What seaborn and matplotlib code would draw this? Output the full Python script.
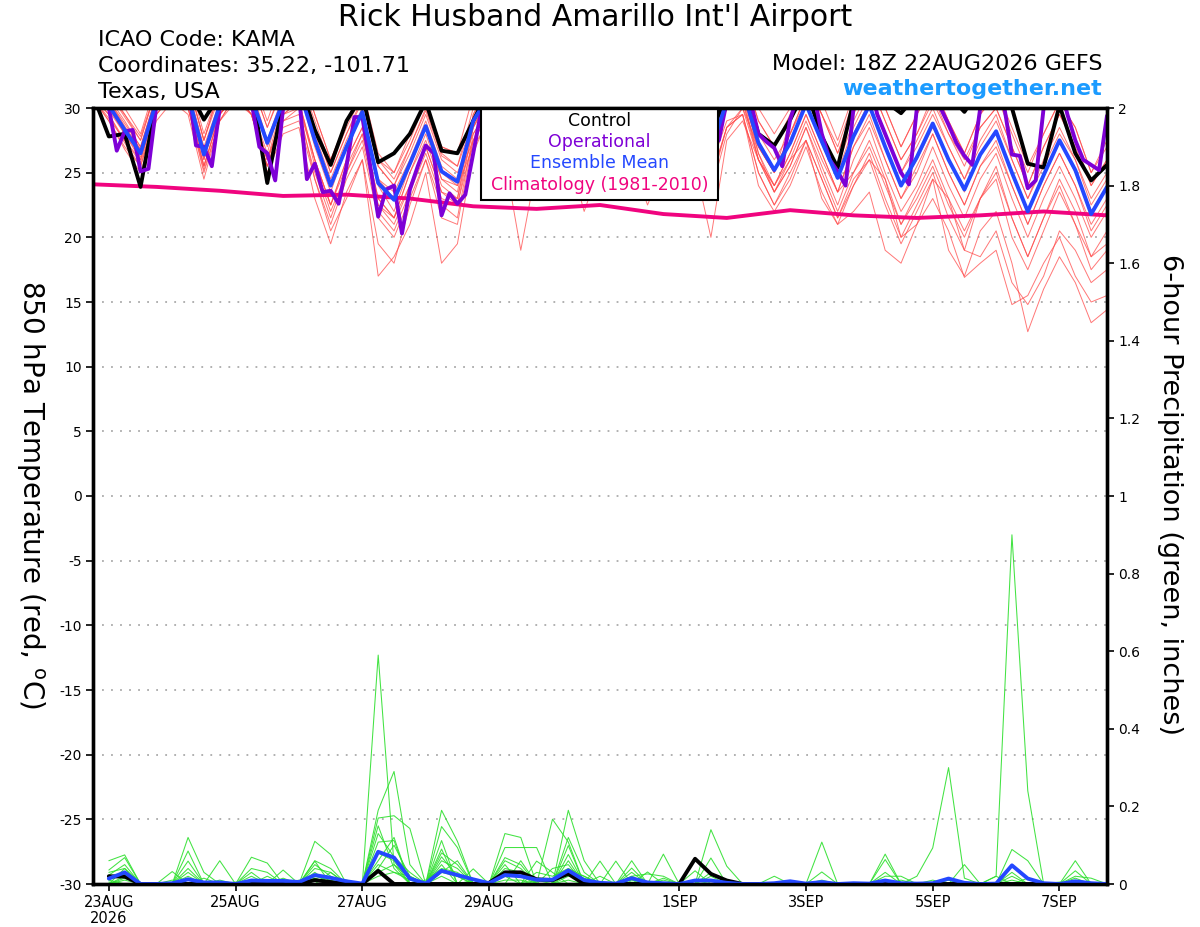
import matplotlib
matplotlib.use("Agg")
import matplotlib.pyplot as plt
import seaborn as sns
import pandas as pd
from matplotlib.patches import Rectangle

# ---------------- time axes (hours after 18Z 22AUG2026) ----------------
hours = list(range(0, 385, 6))          # ensemble, 6-hourly
op_hours = list(range(0, 385, 3))       # operational, 3-hourly
clim_hours = list(range(0, 385, 24))    # climatology, daily
precip_hours = list(range(6, 385, 6))   # 6-hour precipitation totals

xtick_hours = [6, 54, 102, 150, 222, 270, 318, 366]
xtick_labels = ['23AUG\n2026', '25AUG', '27AUG', '29AUG', '1SEP', '3SEP', '5SEP', '7SEP']

# ---------------- 850 hPa temperature (C) ----------------
temp_control = [31.0, 27.8, 28.0, 23.9, 30.5, 32.5, 31.5, 29.1, 31.0, 32.5, 31.5, 24.2,
                30.5, 32.0, 28.3, 25.6, 29.0, 31.0, 25.8, 26.5, 28.0, 30.5, 26.7, 26.5,
                29.0, 31.5, 30.5, 27.5, 30.5, 32.0, 31.0, 27.5, 30.0, 32.0, 31.0, 28.0,
                30.5, 32.0, 31.0, 28.0, 31.0, 32.0, 28.0, 27.1, 29.1, 31.5, 27.8, 25.4,
                30.5, 32.0, 30.5, 29.6, 31.0, 32.0, 31.0, 29.7, 31.5, 32.0, 30.0, 25.7,
                25.4, 30.2, 26.5, 24.4, 25.6]

temp_mean = [31.0, 30.2, 28.3, 26.5, 30.5, 32.0, 31.0, 26.4, 30.2, 32.0, 30.8, 27.3,
             30.5, 31.5, 27.5, 24.0, 27.0, 29.7, 24.2, 22.9, 25.7, 28.6, 25.1, 24.3,
             29.0, 31.0, 29.5, 26.0, 29.5, 31.5, 30.0, 26.5, 29.5, 31.0, 30.0, 26.8,
             29.5, 31.5, 30.0, 26.8, 30.5, 31.5, 27.3, 25.2, 27.3, 30.3, 27.4, 24.6,
             27.8, 30.2, 27.0, 24.0, 26.2, 28.8, 26.0, 23.7, 26.4, 28.2, 25.0, 22.0,
             24.8, 27.5, 25.2, 21.8, 23.9]

temp_oper = [31.5, 31.0, 30.0, 26.7, 28.2, 28.3, 25.1, 25.3,
             30.2, 32.0, 33.0, 33.0, 32.0, 27.1, 27.0, 25.5,
             30.0, 32.0, 33.0, 33.0, 30.5, 27.0, 26.5, 24.4,
             30.0, 32.0, 31.0, 24.5, 25.7, 23.5, 23.6, 22.6,
             25.5, 29.3, 29.3, 25.5, 21.6, 23.7, 24.0, 20.3,
             23.7, 25.5, 27.1, 26.5, 21.7, 23.4, 22.6, 23.3,
             26.5, 29.8, 31.5, 32.0, 30.0, 28.0, 27.0, 26.5,
             30.0, 32.0, 32.5, 31.5, 29.5, 27.5, 27.0, 26.5,
             29.5, 31.5, 32.0, 31.0, 29.5, 27.5, 27.0, 26.5,
             29.5, 31.5, 32.0, 31.0, 29.5, 28.0, 27.0, 27.5,
             30.5, 32.0, 32.0, 30.5, 28.0, 27.4, 26.9, 25.5,
             29.1, 31.0, 32.0, 31.0, 28.0, 26.0, 25.1, 24.0,
             30.0, 32.0, 32.0, 29.5, 28.0, 26.5, 25.0, 24.1,
             30.0, 32.0, 32.0, 30.0, 28.7, 27.3, 26.3, 25.6,
             30.0, 32.0, 32.0, 30.2, 26.4, 26.3, 23.8, 24.4,
             30.0, 32.0, 32.0, 29.5, 27.5, 26.0, 25.6, 25.2,
             29.4]

temp_clim = [24.1, 23.9, 23.6, 23.2, 23.3, 23.0, 22.4, 22.2, 22.5,
             21.8, 21.5, 22.1, 21.7, 21.5, 21.7, 22.0, 21.7]

temp_m01 = [31.2, 31.0, 29.5, 27.8, 31.5, 33.0, 32.0, 27.5, 31.5, 33.2, 32.0, 28.5,
            31.8, 33.0, 29.5, 26.0, 29.0, 31.5, 26.5, 25.0, 28.0, 30.5, 27.0, 26.5,
            31.0, 33.0, 31.5, 28.0, 31.5, 33.5, 32.0, 28.5, 31.5, 33.0, 32.0, 29.0,
            31.5, 33.5, 32.0, 29.0, 32.5, 33.5, 30.0, 28.0, 30.0, 33.0, 30.5, 27.5,
            31.0, 33.0, 30.0, 27.0, 29.5, 31.5, 29.0, 26.5, 29.5, 31.0, 28.0, 25.0,
            28.0, 30.5, 28.5, 25.0, 27.0]
temp_m02 = [30.8, 29.0, 27.0, 25.5, 29.5, 31.0, 30.0, 25.0, 29.0, 31.0, 29.5, 26.0,
            29.5, 30.5, 25.5, 22.0, 25.0, 28.0, 22.5, 21.0, 24.0, 27.0, 23.5, 22.5,
            27.5, 29.5, 28.0, 24.5, 28.0, 30.0, 28.5, 25.0, 28.0, 29.5, 28.5, 25.0,
            28.0, 30.0, 28.0, 24.5, 28.5, 29.5, 25.0, 22.5, 24.5, 27.5, 24.5, 21.5,
            24.5, 26.0, 24.5, 20.0, 21.0, 24.5, 23.0, 19.0, 18.5, 20.5, 16.5, 14.8,
            17.0, 20.5, 19.0, 16.5, 17.5]
temp_m03 = [31.0, 30.5, 28.5, 26.8, 30.8, 32.2, 31.0, 26.0, 30.5, 32.5, 31.0, 27.5,
            30.5, 32.0, 28.5, 25.0, 28.0, 30.8, 25.5, 24.0, 27.0, 29.8, 26.3, 25.5,
            30.0, 32.0, 30.5, 27.0, 30.5, 32.5, 31.0, 27.5, 30.5, 32.0, 31.0, 28.0,
            30.5, 32.5, 31.0, 28.0, 32.0, 33.0, 29.0, 27.0, 29.0, 32.0, 29.5, 26.5,
            29.5, 32.0, 29.0, 26.0, 28.0, 31.0, 28.0, 26.0, 28.5, 30.0, 27.0, 24.0,
            27.0, 29.5, 27.0, 24.0, 26.0]
temp_m04 = [30.9, 29.5, 27.5, 26.0, 30.0, 31.5, 30.5, 25.5, 29.5, 31.5, 30.0, 26.0,
            29.5, 30.0, 24.5, 20.5, 23.0, 26.0, 17.0, 18.5, 21.0, 25.0, 18.0, 19.5,
            26.5, 29.5, 28.0, 24.5, 28.5, 30.5, 29.0, 25.5, 28.5, 30.0, 29.0, 25.5,
            28.5, 30.5, 29.0, 25.5, 29.0, 29.5, 24.0, 22.0, 24.0, 27.0, 23.5, 21.0,
            24.0, 26.5, 23.0, 20.0, 22.5, 25.0, 21.5, 19.0, 23.0, 24.5, 20.0, 17.5,
            20.5, 23.5, 21.0, 18.5, 19.5]
temp_m05 = [31.1, 30.8, 29.0, 27.0, 31.0, 32.5, 31.5, 27.0, 30.5, 32.0, 31.0, 27.0,
            30.5, 31.5, 27.0, 23.5, 27.0, 29.5, 24.0, 22.0, 25.5, 28.5, 24.5, 24.0,
            28.5, 30.5, 29.0, 25.5, 29.0, 31.0, 29.0, 25.0, 28.0, 29.5, 28.0, 24.5,
            27.5, 29.5, 28.0, 24.5, 28.5, 29.5, 25.0, 22.5, 25.0, 27.5, 24.5, 21.5,
            24.0, 26.0, 22.5, 19.5, 22.0, 24.5, 19.0, 17.0, 20.5, 22.0, 18.0, 12.7,
            16.0, 18.5, 16.5, 13.4, 14.4]
temp_m06 = [31.2, 31.5, 29.5, 27.5, 31.5, 33.0, 32.0, 27.5, 31.0, 32.5, 31.5, 27.5,
            30.0, 30.5, 26.0, 22.5, 26.0, 28.5, 23.0, 21.5, 25.0, 28.0, 24.5, 23.5,
            29.5, 31.5, 30.5, 27.0, 30.5, 32.5, 31.0, 27.5, 30.5, 32.0, 31.0, 27.5,
            30.0, 32.0, 30.5, 27.5, 31.0, 32.0, 28.0, 26.0, 28.0, 30.5, 27.5, 24.5,
            28.0, 30.5, 27.0, 24.0, 26.0, 28.5, 26.0, 23.5, 26.5, 28.0, 25.0, 22.0,
            25.0, 27.5, 25.0, 22.0, 24.0]
temp_m07 = [30.8, 29.2, 27.5, 25.8, 29.5, 31.0, 30.0, 25.5, 29.5, 31.0, 30.0, 26.5,
            31.0, 32.5, 29.0, 25.5, 28.5, 31.0, 26.0, 24.5, 27.0, 30.0, 26.5, 25.5,
            29.0, 30.5, 28.0, 24.0, 27.0, 28.5, 27.0, 23.0, 26.5, 28.0, 26.5, 23.5,
            26.5, 28.5, 27.0, 23.5, 28.0, 30.0, 26.0, 24.0, 26.5, 29.5, 26.5, 23.5,
            27.0, 29.5, 26.0, 23.0, 25.5, 28.0, 25.0, 22.5, 25.5, 27.5, 24.0, 21.0,
            24.0, 26.5, 24.0, 20.5, 22.5]
temp_m08 = [31.0, 30.6, 28.8, 27.0, 31.0, 32.5, 31.2, 26.8, 30.0, 31.5, 30.0, 26.0,
            29.0, 29.5, 25.0, 21.5, 25.0, 27.5, 22.0, 20.5, 23.5, 26.5, 23.0, 22.5,
            28.5, 31.0, 29.5, 26.0, 29.5, 31.5, 30.0, 26.5, 29.5, 31.0, 30.0, 27.0,
            30.5, 32.5, 31.0, 28.0, 32.0, 33.0, 29.0, 27.0, 29.5, 32.0, 29.5, 26.5,
            30.0, 32.0, 29.0, 26.0, 28.0, 30.5, 28.0, 25.5, 28.5, 30.0, 27.0, 24.0,
            27.0, 29.5, 27.5, 24.0, 26.0]
temp_m09 = [30.7, 29.0, 26.8, 25.0, 29.0, 30.5, 29.5, 24.5, 29.0, 30.5, 29.5, 25.5,
            29.5, 30.5, 26.0, 22.5, 26.0, 28.5, 23.0, 21.5, 25.0, 27.5, 24.0, 23.0,
            28.5, 31.0, 30.0, 26.5, 31.0, 33.0, 32.0, 28.5, 31.5, 33.0, 32.0, 29.0,
            31.0, 33.0, 31.5, 28.5, 31.0, 31.5, 26.5, 23.5, 26.0, 27.5, 23.0, 21.0,
            22.0, 23.5, 19.0, 18.0, 21.0, 23.0, 20.5, 16.9, 18.0, 19.0, 14.8, 15.5,
            18.0, 20.0, 17.0, 15.0, 15.5]
temp_m10 = [31.3, 31.5, 30.0, 28.0, 32.0, 33.5, 32.5, 28.0, 31.5, 33.0, 32.0, 28.5,
            31.5, 32.5, 28.5, 25.0, 28.0, 30.5, 25.5, 24.0, 26.5, 29.5, 26.0, 25.0,
            28.0, 30.0, 28.5, 25.0, 28.5, 30.5, 29.0, 25.5, 28.5, 30.0, 29.0, 25.5,
            28.5, 30.5, 29.0, 25.5, 30.0, 31.0, 27.0, 25.0, 28.0, 31.0, 28.0, 25.5,
            29.0, 31.5, 28.0, 25.0, 27.5, 30.0, 27.0, 24.5, 27.5, 29.5, 26.0, 23.0,
            26.0, 28.5, 26.0, 23.0, 25.0]
temp_m11 = [31.0, 30.0, 28.0, 26.2, 30.5, 32.0, 30.5, 25.5, 29.5, 31.0, 29.5, 25.0,
            28.0, 28.5, 23.0, 19.5, 23.5, 26.0, 19.5, 18.0, 22.5, 26.0, 21.5, 21.0,
            27.5, 30.5, 29.0, 25.5, 29.5, 31.5, 30.0, 26.5, 29.5, 31.0, 30.0, 26.5,
            29.5, 31.5, 30.0, 26.5, 30.0, 30.5, 26.0, 23.5, 25.5, 28.5, 25.0, 22.0,
            25.0, 27.0, 24.0, 21.0, 23.5, 26.0, 23.0, 20.5, 23.0, 25.0, 21.5, 18.5,
            21.5, 24.5, 22.0, 18.5, 20.5]
temp_m12 = [30.9, 29.8, 28.0, 26.0, 30.0, 31.5, 30.5, 26.0, 30.5, 32.5, 31.0, 27.5,
            31.0, 32.0, 28.0, 24.5, 27.5, 30.0, 24.5, 23.5, 26.0, 29.0, 25.5, 24.5,
            27.5, 29.5, 27.5, 24.0, 27.5, 29.5, 28.0, 24.5, 27.5, 29.0, 28.0, 24.5,
            27.0, 29.0, 27.5, 24.0, 28.5, 30.0, 27.0, 25.0, 29.0, 32.0, 29.5, 27.0,
            30.5, 33.0, 30.0, 27.0, 29.5, 32.0, 29.0, 26.5, 29.5, 31.5, 28.5, 25.5,
            28.0, 30.5, 28.5, 25.0, 27.5]
temp_m13 = [31.1, 30.6, 28.6, 26.8, 30.8, 32.3, 31.3, 26.5, 29.5, 31.0, 29.5, 25.5,
            29.0, 30.0, 26.0, 22.5, 25.5, 28.0, 22.5, 21.5, 24.0, 27.0, 23.5, 23.0,
            29.5, 32.0, 30.5, 27.0, 30.5, 32.5, 31.0, 27.5, 30.5, 32.0, 31.0, 27.5,
            30.0, 32.5, 31.0, 28.0, 30.5, 31.0, 26.0, 23.5, 25.5, 28.5, 25.5, 22.5,
            26.0, 28.5, 25.0, 22.0, 24.0, 27.0, 24.0, 21.5, 24.5, 26.5, 23.0, 20.0,
            23.0, 25.5, 23.0, 20.0, 22.0]
temp_m14 = [30.8, 29.5, 27.3, 25.5, 29.5, 31.0, 30.0, 25.2, 29.0, 31.0, 30.0, 26.0,
            30.5, 31.5, 27.5, 24.0, 27.0, 29.5, 24.5, 23.0, 25.5, 28.5, 25.0, 24.0,
            27.0, 29.0, 26.0, 19.0, 25.5, 28.0, 26.5, 22.0, 25.5, 27.0, 26.0, 22.5,
            25.5, 27.5, 25.5, 20.0, 27.5, 29.0, 26.0, 24.0, 26.5, 29.5, 26.5, 23.5,
            27.0, 29.0, 26.0, 23.0, 25.0, 28.0, 25.0, 22.5, 25.5, 27.0, 24.0, 21.0,
            24.0, 26.5, 24.0, 21.0, 23.0]
temp_m15 = [31.2, 31.2, 29.3, 27.5, 31.5, 33.0, 32.0, 27.5, 31.5, 33.5, 32.5, 29.0,
            32.5, 33.5, 29.5, 26.0, 29.0, 31.5, 26.0, 25.0, 27.5, 30.5, 27.0, 26.5,
            29.0, 31.0, 29.5, 26.0, 29.5, 31.5, 30.0, 26.5, 29.5, 31.0, 30.0, 26.5,
            29.5, 31.5, 30.0, 27.0, 30.0, 30.5, 26.5, 24.0, 26.0, 29.0, 26.0, 23.5,
            25.0, 27.5, 24.5, 21.0, 23.0, 25.5, 22.5, 20.0, 23.0, 25.5, 21.5, 18.5,
            21.5, 24.0, 21.0, 17.5, 19.0]
temp_m16 = [31.0, 30.3, 28.3, 26.4, 30.3, 31.8, 30.8, 26.2, 29.5, 31.0, 29.5, 25.5,
            28.5, 29.0, 24.5, 21.0, 24.5, 27.0, 21.5, 20.0, 23.0, 26.0, 22.5, 21.5,
            28.0, 30.0, 28.5, 25.0, 28.5, 30.5, 29.0, 25.5, 28.5, 30.0, 29.0, 26.0,
            28.5, 30.5, 29.0, 26.0, 30.0, 31.0, 27.0, 25.0, 28.0, 31.0, 28.0, 25.0,
            28.5, 31.0, 28.0, 25.0, 27.0, 29.5, 27.0, 24.5, 27.0, 29.0, 26.0, 23.0,
            25.5, 28.0, 26.0, 22.5, 24.5]

# ---------------- 6-hour precipitation (inches) ----------------
precip_control = [.02, .019, 0, 0, 0, 0, 0, 0,
                  0, 0, 0, 0, 0, .01, .005, 0,
                  0, .034, 0, 0, 0, 0, 0, 0,
                  .003, .03, .03, .012, .01, .026, 0, 0,
                  0, 0, 0, 0, 0, .065, .026, .009,
                  0, 0, 0, 0, 0, 0, 0, 0,
                  0, 0, 0, 0, 0, 0, 0, 0,
                  0, 0, 0, 0, 0, 0, 0, 0]
precip_mean = [.014, .03, 0, 0, .002, .012, .004, .004,
               0, .009, .008, .008, .005, .023, .016, .007,
               .001, .083, .068, .014, .001, .034, .023, .012,
               .002, .023, .02, .011, .011, .035, .01, .003,
               .001, .015, .004, .002, 0, .009, .009, .003,
               0, 0, .002, .007, .001, .005, 0, .002,
               .001, .009, .002, .001, .002, .014, .003, 0,
               .001, .048, .014, .002, 0, .007, .002, 0]

precip_p01 = [.06, .075, 0, 0, 0, .12, .03, 0,
              0, 0, 0, 0, 0, .11, .076, 0,
              0, .59, .05, 0, 0, .19, .11, 0,
              0, .13, .12, 0, 0, .19, .06, 0,
              0, 0, 0, 0, 0, 0, .14, .046,
              0, 0, 0, 0, 0, 0, 0, 0,
              0, 0, 0, .02, .093, .30, .015, 0,
              0, 0, 0, 0, 0, 0, 0, 0]
precip_p02 = [.036, .068, 0, 0, 0, .085, 0, 0,
              0, .069, .054, 0, 0, 0, 0, 0,
              0, .19, .29, .05, 0, .148, .094, 0,
              0, 0, 0, 0, .167, .108, 0, 0,
              0, .06, 0, .077, 0, 0, 0, 0,
              0, 0, 0, 0, 0, .108, 0, 0,
              0, .077, 0, 0, 0, 0, 0, 0,
              .02, .90, .24, 0, 0, 0, 0, 0]
precip_p03 = [.023, .05, 0, 0, 0, .059, 0, .06,
              0, 0, 0, .036, 0, .059, 0, 0,
              0, .17, .176, .143, 0, .112, 0, 0,
              0, .094, .094, .094, 0, .099, 0, .059,
              0, 0, 0, 0, 0, .034, 0, 0,
              0, 0, 0, 0, 0, 0, 0, 0,
              0, 0, 0, 0, 0, 0, 0, 0,
              0, .089, .06, 0, 0, .06, 0, 0]
precip_p04 = [.015, .03, 0, 0, .032, 0, 0, 0,
              0, .03, 0, 0, 0, .05, .02, 0,
              0, .108, .112, 0, 0, .05, 0, .039,
              0, .068, .05, 0, 0, .076, 0, 0,
              0, .041, 0, 0, 0, 0, .067, 0,
              0, 0, 0, 0, 0, 0, 0, 0,
              0, .063, 0, 0, 0, 0, 0, 0,
              0, 0, 0, 0, 0, .034, 0, 0]
precip_p05 = [0, .02, 0, 0, 0, .03, 0, 0,
              0, 0, .02, 0, .01, 0, .03, 0,
              0, .05, .03, .02, 0, .03, .02, 0,
              0, 0, 0, .059, .03, 0, 0, 0,
              .059, 0, .031, 0, 0, 0, 0, 0,
              0, 0, .02, 0, 0, .031, 0, 0,
              0, .02, .02, 0, 0, 0, .05, 0,
              .02, 0, 0, 0, 0, .02, .015, 0]
precip_p06 = [.01, 0, 0, 0, 0, 0, .015, 0,
              0, .02, 0, .015, 0, .03, 0, .01,
              0, .08, .06, 0, .01, .04, .03, 0,
              0, .03, .02, 0, 0, .03, .02, 0,
              0, .02, .026, .02, 0, .01, 0, 0,
              0, 0, 0, 0, 0, 0, 0, 0,
              0, 0, 0, 0, 0, 0, 0, 0,
              0, 0, 0, 0, 0, 0, 0, 0]
precip_p07 = [0, .01, 0, 0, 0, 0, 0, 0,
              .005, 0, 0, 0, 0, .02, .01, 0,
              0, .02, .03, .01, 0, .02, 0, .01,
              0, .01, .01, 0, 0, .01, 0, 0,
              0, .015, 0, 0, 0, 0, 0, 0,
              0, 0, 0, 0, 0, 0, 0, 0,
              0, 0, .01, 0, 0, 0, 0, 0,
              0, .02, 0, 0, .005, 0, 0, 0]
precip_p08 = [.005, 0, 0, 0, 0, .015, 0, 0,
              0, .01, .01, 0, 0, .015, 0, 0,
              0, .04, .10, .02, 0, .06, .04, 0,
              0, .05, 0, .03, .02, .04, .02, 0,
              0, .02, 0, .01, 0, 0, 0, 0,
              0, 0, 0, 0, 0, .01, 0, 0,
              0, 0, 0, 0, .01, 0, 0, 0,
              0, .01, 0, 0, 0, 0, 0, 0]
precip_p09 = [0, .04, 0, 0, 0, .02, 0, .01,
              0, 0, 0, .01, 0, .06, .04, 0,
              0, .15, .04, 0, 0, .08, .05, 0,
              0, 0, .06, 0, .04, .05, 0, .02,
              0, .03, 0, 0, 0, 0, .03, 0,
              0, 0, 0, 0, 0, 0, 0, 0,
              0, 0, 0, 0, 0, .01, 0, 0,
              0, 0, .015, 0, 0, 0, 0, 0]
precip_p10 = [.03, .04, 0, 0, 0, 0, 0, 0,
              0, .04, .03, 0, 0, .025, 0, 0,
              0, .13, .07, .03, 0, .09, 0, 0,
              0, .04, .03, 0, 0, .12, .03, 0,
              0, 0, 0, .015, 0, 0, 0, 0,
              0, 0, 0, 0, 0, 0, 0, 0,
              0, .03, 0, 0, 0, 0, 0, 0,
              0, 0, 0, 0, 0, .015, 0, 0]
precip_p11 = [0, .015, 0, 0, 0, .04, 0, 0,
              0, 0, 0, 0, 0, .04, .03, 0,
              0, .06, .12, 0, 0, .03, .06, 0,
              0, .02, 0, .01, 0, .06, 0, 0,
              0, .01, 0, 0, 0, 0, .02, 0,
              0, 0, 0, 0, 0, .005, 0, 0,
              0, 0, 0, 0, 0, .01, 0, 0,
              0, .03, 0, 0, 0, 0, 0, 0]
precip_p12 = [.02, .025, 0, 0, .01, 0, 0, 0,
              0, 0, 0, 0, 0, .015, 0, 0,
              0, .03, .05, .015, 0, .07, .02, 0,
              0, .06, .04, 0, 0, .02, .015, 0,
              0, .005, 0, 0, 0, 0, 0, 0,
              0, 0, 0, 0, 0, 0, 0, 0,
              0, 0, 0, 0, 0, 0, 0, 0,
              0, 0, 0, 0, 0, 0, 0, 0]

temp_members = {
    'm01': temp_m01, 'm02': temp_m02, 'm03': temp_m03, 'm04': temp_m04,
    'm05': temp_m05, 'm06': temp_m06, 'm07': temp_m07, 'm08': temp_m08,
    'm09': temp_m09, 'm10': temp_m10, 'm11': temp_m11, 'm12': temp_m12,
    'm13': temp_m13, 'm14': temp_m14, 'm15': temp_m15, 'm16': temp_m16,
}
precip_members = {
    'p01': precip_p01, 'p02': precip_p02, 'p03': precip_p03, 'p04': precip_p04,
    'p05': precip_p05, 'p06': precip_p06, 'p07': precip_p07, 'p08': precip_p08,
    'p09': precip_p09, 'p10': precip_p10, 'p11': precip_p11, 'p12': precip_p12,
}

temp_df = pd.concat([pd.DataFrame({'hour': hours, 'temp': v, 'member': k})
                     for k, v in temp_members.items()], ignore_index=True)
precip_df = pd.concat([pd.DataFrame({'hour': precip_hours, 'precip': v, 'member': k})
                       for k, v in precip_members.items()], ignore_index=True)

# ---------------- styling ----------------
sns.set_style("ticks")
plt.rcParams['font.family'] = ['DejaVu Sans']
plt.rcParams['text.color'] = 'black'
plt.rcParams['axes.labelcolor'] = 'black'
plt.rcParams['xtick.color'] = 'black'
plt.rcParams['ytick.color'] = 'black'
plt.rcParams['axes.edgecolor'] = 'black'

RED = '#ff4a4a'
GREEN = '#2ee02e'
PURPLE = '#7e00d6'
BLUE = '#2448ff'
PINK = '#f0047f'
LINK = '#1b9bff'

W, H = 1200, 927
L, R, T, B = 93, 1107, 108, 884
fig = plt.figure(figsize=(W / 100, H / 100), dpi=100)
ax = fig.add_axes([L / W, 1 - B / H, (R - L) / W, (B - T) / H])

ax.set_xlim(0, 384)
ax.set_ylim(-30, 30)

sns.lineplot(data=temp_df, x='hour', y='temp', units='member', estimator=None,
             color=RED, lw=0.7, alpha=0.75, legend=False, ax=ax)
sns.lineplot(x=clim_hours, y=temp_clim, color=PINK, lw=2.8, ax=ax, legend=False)
sns.lineplot(x=hours, y=temp_control, color='black', lw=2.8, ax=ax, legend=False)
sns.lineplot(x=op_hours, y=temp_oper, color=PURPLE, lw=2.8, ax=ax, legend=False)
sns.lineplot(x=hours, y=temp_mean, color=BLUE, lw=2.8, ax=ax, legend=False)

ax.set_yticks(list(range(-30, 31, 5)))
ax.set_yticklabels([str(v) for v in range(-30, 31, 5)])
ax.set_xticks(xtick_hours)
ax.set_xticklabels(xtick_labels, linespacing=1.1)
ax.yaxis.grid(True, color='#aaaaaa', linestyle=(0, (1, 4)), lw=1.3)
ax.xaxis.grid(False)
ax.set_axisbelow(True)
ax.set_xlabel('')
ax.set_ylabel('')
ax.tick_params(axis='y', direction='out', length=5, width=1.2, labelsize=10, pad=3,
               colors='black')
ax.tick_params(axis='x', direction='out', length=5, width=1.2, labelsize=10.5, pad=3,
               colors='black')
for s in ax.spines.values():
    s.set_linewidth(2.4)
    s.set_color('black')

# precipitation axis
ax2 = ax.twinx()
sns.lineplot(data=precip_df, x='hour', y='precip', units='member', estimator=None,
             color=GREEN, lw=0.75, alpha=0.9, legend=False, ax=ax2)
sns.lineplot(x=precip_hours, y=precip_control, color='black', lw=2.8, ax=ax2, legend=False)
sns.lineplot(x=precip_hours, y=precip_mean, color=BLUE, lw=2.8, ax=ax2, legend=False)
ax2.set_xlim(0, 384)
ax2.set_ylim(0, 2)
p_ticks = [0, 0.2, 0.4, 0.6, 0.8, 1, 1.2, 1.4, 1.6, 1.8, 2]
ax2.set_yticks(p_ticks)
ax2.set_yticklabels([f"{v:g}" for v in p_ticks])
ax2.set_ylabel('')
ax2.tick_params(axis='y', direction='out', length=5, width=1.2, labelsize=10, pad=3,
                colors='black')
for s in ax2.spines.values():
    s.set_linewidth(2.4)
    s.set_color('black')

# legend box
lx0 = (481 - L) / (R - L)
lx1 = (718 - L) / (R - L)
ly0 = 1 - (200 - T) / (B - T)
ax.add_patch(Rectangle((lx0, ly0), lx1 - lx0, 1 - ly0, transform=ax.transAxes,
                       facecolor='white', edgecolor='black', lw=1.5, zorder=10,
                       clip_on=False))
leg_items = [('Control', 'black', 121), ('Operational', PURPLE, 142),
             ('Ensemble Mean', BLUE, 163), ('Climatology (1981-2010)', PINK, 185)]
for txt, col, ypix in leg_items:
    ax.text((lx0 + lx1) / 2, 1 - (ypix - T) / (B - T), txt, color=col,
            ha='center', va='center', fontsize=12.5, transform=ax.transAxes, zorder=11)

# titles and annotations
fig.text(595 / W, 1 - 18 / H, "Rick Husband Amarillo Int'l Airport",
         ha='center', va='center', fontsize=21.5, color='black')
fig.text(98 / W, 1 - 40 / H, 'ICAO Code: KAMA', ha='left', va='center', fontsize=16,
         color='black')
fig.text(98 / W, 1 - 66 / H, 'Coordinates: 35.22, -101.71', ha='left', va='center',
         fontsize=16, color='black')
fig.text(98 / W, 1 - 92 / H, 'Texas, USA', ha='left', va='center', fontsize=16,
         color='black')
fig.text(1102 / W, 1 - 64 / H, 'Model: 18Z 22AUG2026 GEFS', ha='right', va='center',
         fontsize=16, color='black')
fig.text(1102 / W, 1 - 89 / H, 'weathertogether.net', ha='right', va='center',
         fontsize=16, fontweight='bold', color=LINK)
fig.text(30 / W, 1 - 495 / H, r'850 hPa Temperature (red, $^{\mathrm{o}}$C)',
         rotation=-90, ha='center', va='center', fontsize=20, color='black')
fig.text(1170 / W, 1 - 495 / H, '6-hour Precipitation (green, inches)',
         rotation=-90, ha='center', va='center', fontsize=19.5, color='black')

fig.savefig('out.png', dpi=100)
